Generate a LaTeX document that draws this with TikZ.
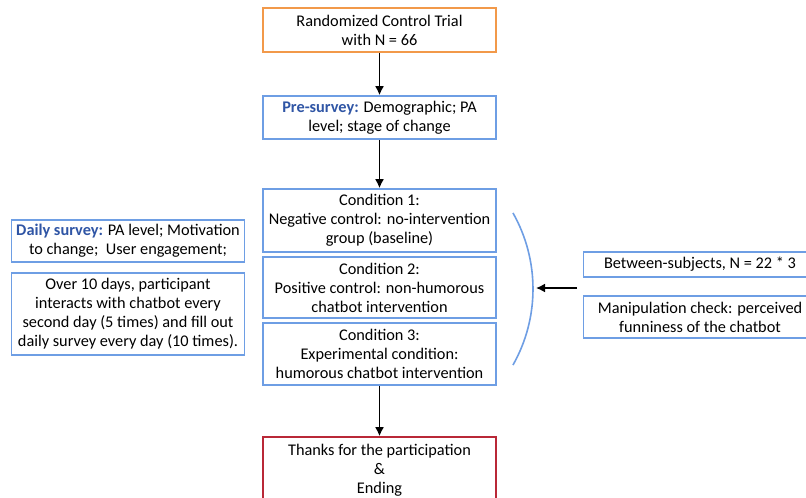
\documentclass[tikz,border=0pt]{standalone}
\usepackage{fontspec}
\setmainfont{Carlito}
\usepackage{xcolor}
\usetikzlibrary{arrows.meta,positioning}

\definecolor{boxblue}{RGB}{110,158,228}
\definecolor{boxorange}{RGB}{242,153,74}
\definecolor{boxred}{RGB}{185,40,55}
\definecolor{headblue}{RGB}{47,85,165}

\tikzset{
  stage/.style={draw=boxblue, line width=1.6pt, fill=white, align=center,
    minimum width=233pt, inner sep=2pt, font=\fontsize{16.3}{19}\selectfont},
  flow/.style={-{Latex[length=9pt,width=9pt]}, line width=1.6pt, black},
}

\begin{document}
\begin{tikzpicture}[x=1pt,y=-1pt]

\clip (0,0) rectangle (806,498);
\fill[white] (0,0) rectangle (806,498);

% middle column
\node[stage, draw=boxorange, minimum height=44pt] (trial) at (379.5,30) {Randomized Control Trial\\with N = 66};
\node[stage, minimum height=43pt] (pre) at (379.5,117.5) {\textcolor{headblue}{\textbf{Pre-survey:}} Demographic; PA\\level; stage of change};
\node[stage, minimum height=63pt] (cond1) at (379.5,220.5) {Condition 1:\\Negative control: no-intervention\\group (baseline)};
\node[stage, minimum height=61pt] (cond2) at (379.5,287.5) {Condition 2:\\Positive control: non-humorous\\chatbot intervention};
\node[stage, minimum height=62pt] (cond3) at (379.5,354) {Condition 3:\\Experimental condition:\\humorous chatbot intervention};
\node[stage, draw=boxred, minimum height=66pt] (ending) at (379.5,470) {Thanks for the participation\\\&\\Ending};

% left column
\node[stage, minimum height=42pt] (daily) at (128,241) {\textcolor{headblue}{\textbf{Daily survey:}} PA level; Motivation\\to change;\ \ User engagement;};
\node[stage, minimum height=82pt] (over) at (128,314) {Over 10 days, participant\\interacts with chatbot every\\second day (5 times) and fill out\\daily survey every day (10 times).};

% right column
\node[stage, minimum height=25pt] (between) at (700,264.5) {Between-subjects, N = 22 * 3};
\node[stage, minimum height=42pt] (manip) at (700,317) {Manipulation check: perceived\\funniness of the chatbot};

% bracket round the conditions
\draw[boxblue, line width=1.6pt] (378.6,289) ++(-29.5:154.4) arc[start angle=-29.5, end angle=29.5, radius=154.4];
\coordinate (arcmid) at (536,288);
\coordinate (rightin) at (577,288);

\draw[flow] (trial) -- (pre);
\draw[flow] (pre) -- (cond1);
\draw[flow] (cond3) -- (ending);
\draw[flow] (rightin) -- (arcmid);

\end{tikzpicture}
\end{document}
